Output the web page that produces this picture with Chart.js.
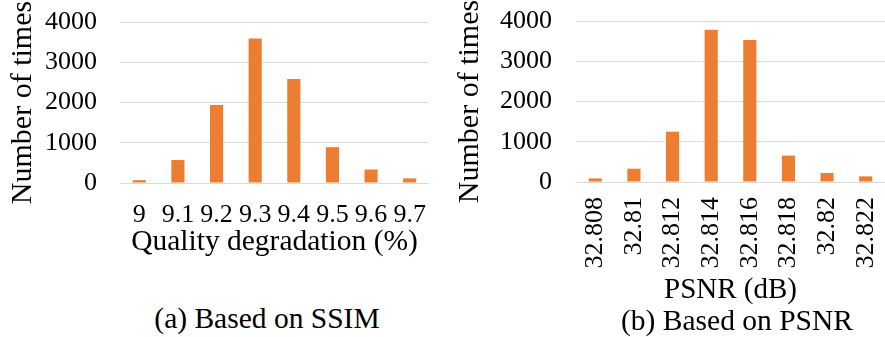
<!DOCTYPE html>
<html>
<head>
<meta charset="utf-8">
<script src="https://cdn.jsdelivr.net/npm/chart.js@4/dist/chart.umd.min.js"></script>
<style>
  body { margin: 0; background: #fff; }
  #wrap { position: relative; width: 885px; height: 337px; overflow: hidden; }
  .box { position: absolute; top: 0; }
  .caption {
    position: absolute; text-align: center; white-space: nowrap;
    font-family: "Liberation Serif", "Times New Roman", serif;
    font-size: 29.5px; line-height: 30px; color: #000;
  }
</style>
</head>
<body>
<div id="wrap">
  <div class="box" style="left:0;width:440px;height:260px"><canvas id="ssim"></canvas></div>
  <div class="box" style="left:440px;width:445px;height:308px"><canvas id="psnr"></canvas></div>
  <div class="caption" style="left:117px;width:300px;top:303px">(a) Based on SSIM</div>
  <div class="caption" style="left:587px;width:300px;top:305px">(b) Based on PSNR</div>
</div>
<script>
const ssimLabels = ["9", "9.1", "9.2", "9.3", "9.4", "9.5", "9.6", "9.7"];
const ssimCounts = [70, 570, 1940, 3590, 2585, 890, 335, 115];

const psnrLabels = ["32.808", "32.81", "32.812", "32.814", "32.816", "32.818", "32.82", "32.822"];
const psnrCounts = [90, 330, 1250, 3780, 3530, 655, 225, 140];

const yTicks = [0, 1000, 2000, 3000, 4000];

const serif = "'Liberation Serif', 'Times New Roman', serif";
const orange = "#ed7d31";

function makeChart(id, labels, values, opts) {
    const ctx = document.getElementById(id);
    return new Chart(ctx, {
        type: "bar",
        data: {
            labels: labels,
            datasets: [{
                data: values,
                backgroundColor: orange,
                borderWidth: 0,
                categoryPercentage: 1,
                barPercentage: 0.34,
            }],
        },
        options: {
            responsive: true,
            maintainAspectRatio: false,
            animation: false,
            layout: { padding: opts.padding },
            plugins: {
                legend: { display: false },
                tooltip: { enabled: false },
            },
            scales: {
                x: {
                    // fixed axis size so the plot sits where the original does
                    afterFit: (axis) => {
                        axis.height = opts.xAxisHeight;
                        axis.paddingLeft = 0;
                        axis.paddingRight = 0;
                    },
                    grid: { display: false, drawTicks: false },
                    border: { display: false },
                    ticks: {
                        autoSkip: false,
                        minRotation: opts.rotation,
                        maxRotation: opts.rotation,
                        padding: opts.xTickPad,
                        color: "#000",
                        font: { family: serif, size: 26 },
                    },
                    title: {
                        display: true,
                        text: opts.xTitle,
                        color: "#000",
                        padding: 0,
                        font: { family: serif, size: opts.xTitleSize },
                    },
                },
                y: {
                    min: 0,
                    max: 4000,
                    afterBuildTicks: (axis) => { axis.ticks = yTicks.map(v => ({ value: v })); },
                    afterFit: (axis) => {
                        axis.width = opts.yAxisWidth;
                        axis.paddingTop = 0;
                        axis.paddingBottom = 0;
                    },
                    grid: { color: "#d9d9d9", lineWidth: 1, drawTicks: false },
                    border: { display: false },
                    ticks: {
                        autoSkip: false,
                        padding: opts.yTickPad,
                        color: "#000",
                        font: { family: serif, size: 26 },
                        callback: (v) => String(v),
                    },
                    title: {
                        display: true,
                        text: "Number of times",
                        color: "#000",
                        padding: { top: opts.yTitlePad, bottom: 0 },
                        font: { family: serif, size: 30 },
                    },
                },
            },
        },
    });
}

makeChart("ssim", ssimLabels, ssimCounts, {
    padding: { top: 22, right: 11, left: 0, bottom: 0 },
    rotation: 0,
    xAxisHeight: 77,
    xTickPad: 17,
    yAxisWidth: 120,
    yTickPad: 23,
    yTitlePad: 5,
    xTitle: "Quality degradation (%)",
    xTitleSize: 29.5,
});

makeChart("psnr", psnrLabels, psnrCounts, {
    padding: { top: 21, right: 0, left: 0, bottom: 0 },
    rotation: 90,
    xAxisHeight: 126,
    xTickPad: 15,
    yAxisWidth: 136,
    yTickPad: 24,
    yTitlePad: 12,
    xTitle: "PSNR (dB)",
    xTitleSize: 29,
});
</script>
</body>
</html>
